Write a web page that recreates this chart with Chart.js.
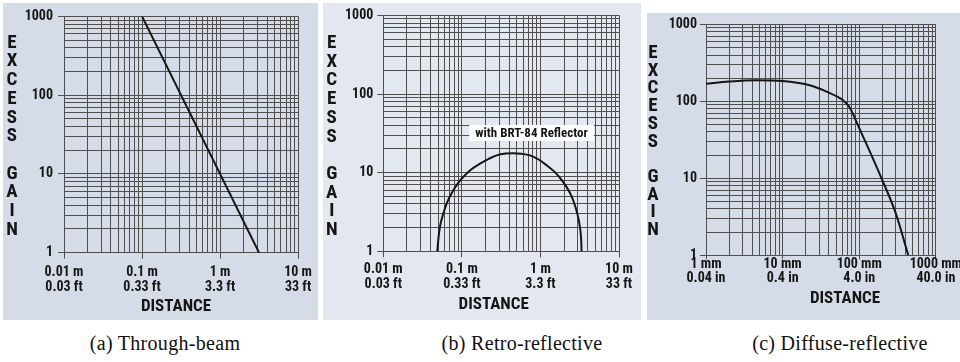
<!DOCTYPE html>
<html>
<head>
<meta charset="utf-8">
<script src="https://cdn.jsdelivr.net/npm/chart.js@4.4.1/dist/chart.umd.min.js"></script>
<style>
  body { margin: 0; width: 960px; height: 362px; background: #fff; position: relative; overflow: hidden; }
  .panel { position: absolute; }
  .panel canvas { display: block; }
  .cap { position: absolute; top: 332px; font-family: 'Liberation Serif', 'DejaVu Serif', serif; font-size: 20px; letter-spacing: 0.3px; color: #111; white-space: nowrap; transform: translateX(-50%); }
</style>
</head>
<body>
<div class="panel" style="left:3px;top:3px;width:315px;height:317px;background:#d5dce7"><canvas id="chartA" width="315" height="317"></canvas></div>
<div class="panel" style="left:323px;top:3px;width:318px;height:317px;background:#e3e7ef"><canvas id="chartB" width="318" height="317"></canvas></div>
<div class="panel" style="left:647px;top:13px;width:313px;height:307px;background:#d5dce7"><canvas id="chartC" width="313" height="307"></canvas></div>
<div class="cap" style="left:165px">(a) Through-beam</div>
<div class="cap" style="left:522px">(b) Retro-reflective</div>
<div class="cap" style="left:840px">(c) Diffuse-reflective</div>
<script>
// shared axis stuff
const gainTicks = [1, 10, 100, 1000];
const gainLabels = ['1', '10', '100', '1000'];
const yTitle = 'EXCESS GAIN';
const xTitle = 'DISTANCE';

// (a) + (b) distance in metres
const meterTicks = [0.01, 0.1, 1, 10];
const meterLabels = [['0.01 m', '0.03 ft'], ['0.1 m', '0.33 ft'], ['1 m', '3.3 ft'], ['10 m', '33 ft']];

// (c) distance in mm
const mmTicks = [1, 10, 100, 1000];
const mmLabels = [['1 mm', '0.04 in'], ['10 mm', '0.4 in'], ['100 mm', '4.0 in'], ['1000 mm', '40.0 in']];

// (a) through-beam
const beamDist = [0.1, 3.16];
const beamGain = [1000, 1];

// (b) retro-reflective, with BRT-84 reflector
const retroDist = [0.0486, 0.0505, 0.0526, 0.058, 0.064, 0.075, 0.09, 0.104, 0.13, 0.17, 0.22, 0.277, 0.36, 0.45, 0.57, 0.735, 0.95, 1.2, 1.55, 1.95, 2.3, 2.61, 2.95, 3.18, 3.3, 3.34];
const retroGain = [1, 1.5, 2.05, 3.0, 4.05, 5.6, 7.4, 8.8, 10.9, 13.0, 15.0, 16.6, 17.5, 17.7, 17.4, 16.6, 14.7, 12.4, 10.0, 7.6, 5.9, 4.46, 3.0, 2.05, 1.4, 1];
const retroNote = 'with BRT-84 Reflector';

// (c) diffuse-reflective
const diffDist = [1, 2, 4.5, 10, 22, 40, 61, 74, 100, 200, 300, 437];
const diffGain = [170, 181, 188, 184, 163, 130, 104, 85, 45, 9.5, 3.5, 1];

// Roboto picks up its condensed face with the stretch keyword
const FONT = 'Roboto, sans-serif';
const WEIGHT = 'bold condensed';
const TICK_SIZE = 14;
const gridCol = '#4f4f4f';
const ink = '#151515';

function toPoints(xs, ys) {
  return xs.map((x, i) => ({ x: x, y: ys[i] }));
}

// every 1..9 line of each decade, majors get labels
function logGrid(majors) {
  return function (scale) {
    const out = [];
    for (let i = 0; i < majors.length; i++) {
      const base = majors[i];
      if (i === majors.length - 1) { out.push({ value: base, major: true }); break; }
      for (let k = 1; k < 10; k++) out.push({ value: base * k, major: k === 1 });
    }
    scale.ticks = out;
  };
}

function labelFor(majors, labels) {
  return function (value, index, ticks) {
    if (!ticks[index].major) return '';
    for (let i = 0; i < majors.length; i++) {
      if (Math.abs(Math.log10(value) - Math.log10(majors[i])) < 1e-6) return labels[i];
    }
    return '';
  };
}

const panelText = {
  id: 'panelText',
  afterDraw(chart, args, opts) {
    const ctx = chart.ctx;
    ctx.save();
    ctx.fillStyle = ink;
    ctx.textAlign = 'center';
    ctx.textBaseline = 'middle';
    ctx.font = WEIGHT + ' 19px ' + FONT;
    yTitle.split('').forEach((ch, i) => ctx.fillText(ch, opts.yx, opts.y0 + i * opts.step));
    ctx.font = WEIGHT + ' 17px ' + FONT;
    ctx.fillText(xTitle, opts.xx, opts.xy);
    if (opts.note) {
      const px = chart.scales.x.getPixelForValue(opts.note.x);
      const py = chart.scales.y.getPixelForValue(opts.note.y);
      ctx.font = WEIGHT + ' 13px ' + FONT;
      const w = ctx.measureText(opts.note.text).width + 12;
      ctx.fillStyle = '#fff';
      ctx.fillRect(px - w / 2, py - 8, w, 16);
      ctx.fillStyle = ink;
      ctx.fillText(opts.note.text, px, py + 0.5);
    }
    ctx.restore();
  }
};

function makeChart(id, cfg) {
  const tickCol = (c) => (c.tick && c.tick.major ? gridCol : 'rgba(0,0,0,0)');
  return new Chart(document.getElementById(id), {
    type: 'scatter',
    data: {
      datasets: [{
        data: toPoints(cfg.xs, cfg.ys),
        showLine: true,
        borderColor: ink,
        borderWidth: 2,
        pointRadius: 0,
        cubicInterpolationMode: cfg.mode
      }]
    },
    options: {
      responsive: false,
      animation: false,
      layout: { padding: cfg.pad },
      plugins: { legend: { display: false }, tooltip: { enabled: false }, panelText: cfg.text },
      scales: {
        x: {
          type: 'logarithmic',
          min: cfg.xMajors[0],
          max: cfg.xMajors[cfg.xMajors.length - 1],
          afterBuildTicks: logGrid(cfg.xMajors),
          afterFit: (s) => { s.height = cfg.xHeight; },
          grid: { color: gridCol, lineWidth: 1, tickLength: cfg.xTick, tickColor: tickCol },
          border: { color: gridCol, width: 1 },
          ticks: {
            autoSkip: false, maxRotation: 0, padding: cfg.xPad, color: ink,
            font: { family: FONT, size: TICK_SIZE, weight: WEIGHT, lineHeight: cfg.xLine / TICK_SIZE },
            callback: labelFor(cfg.xMajors, cfg.xLabels)
          }
        },
        y: {
          type: 'logarithmic',
          min: 1,
          max: 1000,
          afterBuildTicks: logGrid(gainTicks),
          afterFit: (s) => { s.width = cfg.yWidth; },
          grid: { color: gridCol, lineWidth: 1, tickLength: 6, tickColor: tickCol },
          border: { color: gridCol, width: 1 },
          ticks: {
            autoSkip: false, padding: cfg.yPad, color: ink,
            font: { family: FONT, size: TICK_SIZE, weight: WEIGHT },
            callback: labelFor(gainTicks, gainLabels)
          }
        }
      }
    },
    plugins: [panelText]
  });
}

makeChart('chartA', {
  xs: beamDist, ys: beamGain, mode: 'default',
  xMajors: meterTicks, xLabels: meterLabels,
  pad: { left: 0, top: 10.3, right: 15, bottom: 0 },
  yWidth: 61, xHeight: 67.3, xTick: 6, xPad: 6, xLine: 15, yPad: 5,
  text: { yx: 9, y0: 40, step: 18.7, xx: 173, xy: 304 }
});

makeChart('chartB', {
  xs: retroDist, ys: retroGain, mode: 'monotone',
  xMajors: meterTicks, xLabels: meterLabels,
  pad: { left: 0, top: 11.7, right: 22, bottom: 0 },
  yWidth: 60.3, xHeight: 68.7, xTick: 6, xPad: 4, xLine: 15.7, yPad: 4,
  text: { yx: 8.7, y0: 40.3, step: 18.7, xx: 170.7, xy: 302, note: { text: retroNote, x: 0.77, y: 32 } }
});

makeChart('chartC', {
  xs: diffDist, ys: diffGain, mode: 'monotone',
  xMajors: mmTicks, xLabels: mmLabels,
  pad: { left: 0, top: 11, right: 22.7, bottom: 0 },
  yWidth: 59, xHeight: 64.7, xTick: 4, xPad: -2, xLine: 14, yPad: 3,
  text: { yx: 6, y0: 40.3, step: 17.7, xx: 198, xy: 286 }
});
</script>
</body>
</html>
